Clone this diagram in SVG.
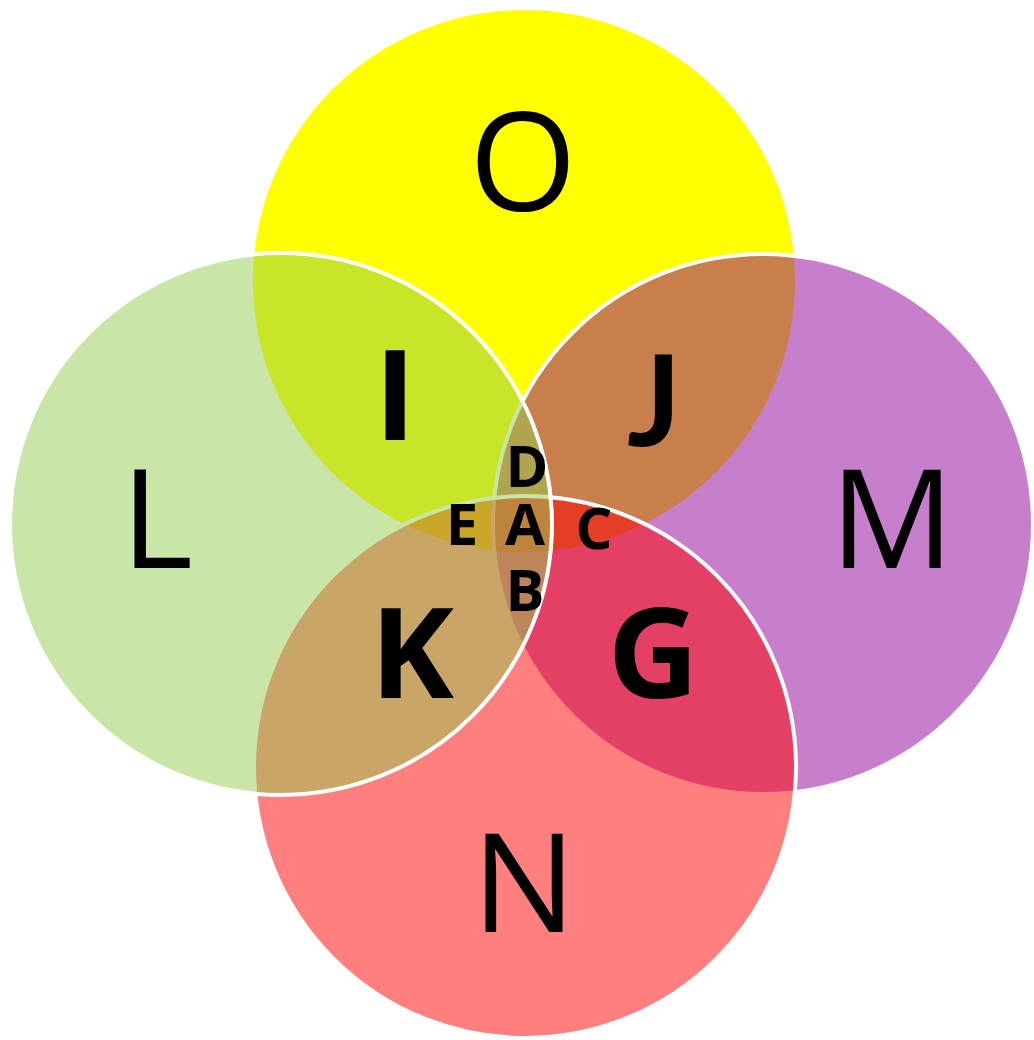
<svg xmlns="http://www.w3.org/2000/svg" width="1034" height="1040" viewBox="0 0 1034 1040">
  <style>
    .set { stroke: #FFFFFF; stroke-width: 4; }
    .yellow { fill: #FFFF00; stroke: none; }
    .purple { fill: #910097; fill-opacity: 0.5; }
    .red { fill: #FF0000; fill-opacity: 0.5; }
    .green { fill: #93CC4F; fill-opacity: 0.5; }
    text { font-family: "Open Sans", "Noto Sans", "Liberation Sans", sans-serif; fill: #000000; text-anchor: middle; }
    .big { font-size: 138px; font-weight: 400; }
    .mid { font-size: 126px; font-weight: 700; }
    .small { font-size: 58px; font-weight: 700; }
    .lato { font-family: Lato, "Open Sans", sans-serif; }
  </style>
  <rect width="1034" height="1040" fill="#FFFFFF"/>
  <g id="set-O"><circle class="yellow" cx="524" cy="281" r="271"/></g>
  <g id="set-M"><circle class="set purple" cx="763" cy="524" r="270"/></g>
  <g id="set-N"><circle class="set red" cx="525" cy="767" r="271"/></g>
  <g id="set-L"><circle class="set green" cx="281" cy="524" r="271"/></g>
  <g id="connectors"></g>
  <g id="labels">
    <text class="big" x="523" y="211">O</text>
    <text class="big" x="157" y="568">L</text>
    <text class="big" x="892" y="568">M</text>
    <text class="big" x="524" y="932">N</text>
    <text class="mid" x="395" y="440">I</text>
    <text class="mid lato" x="654" y="446">J</text>
    <text class="mid" x="412" y="698">K</text>
    <text class="mid" x="653" y="698">G</text>
    <text class="small"><tspan x="527" y="487">D</tspan><tspan x="525" y="545">A</tspan><tspan x="525" y="611">B</tspan></text>
    <text class="small" x="462" y="545">E</text>
    <text class="small" x="594" y="549">C</text>
  </g>
</svg>
